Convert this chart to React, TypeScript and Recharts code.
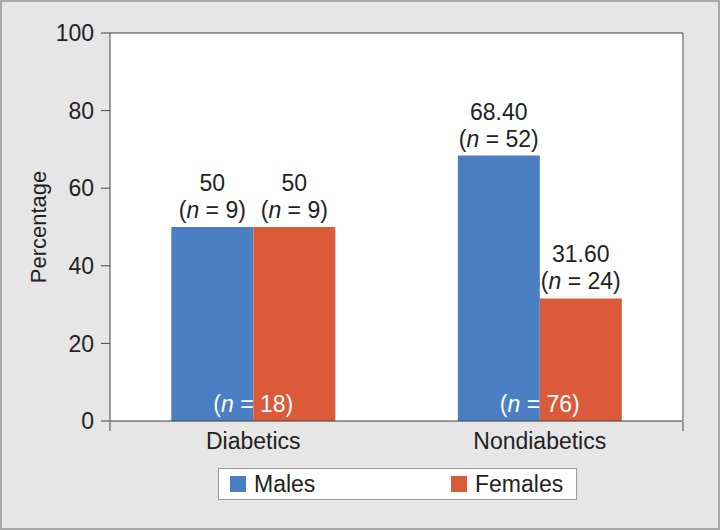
import React from 'react';
import { BarChart, Bar, XAxis, YAxis, CartesianGrid, ReferenceLine, LabelList } from 'recharts';

const categories = ['Diabetics', 'Nondiabetics'];
const malesPct = [50, 68.4];
const femalesPct = [50, 31.6];
const malesText = ['50', '68.40'];
const femalesText = ['50', '31.60'];
const malesN = [9, 52];
const femalesN = [9, 24];
const totalN = [18, 76];
const yTicks = [0, 20, 40, 60, 80, 100];
const bandEdges = [0, 1, 2];
const seriesNames = ['Males', 'Females'];
const seriesColors = ['#4a7fc3', '#da5a3a'];

const FONT = '"Liberation Sans", Arial, sans-serif';
const FS = 23;

const data = categories.map((name, i) => ({
  name,
  males: malesPct[i],
  females: femalesPct[i],
  maleLabel: malesText[i] + '|' + malesN[i],
  femaleLabel: femalesText[i] + '|' + femalesN[i],
  total: totalN[i],
}));

const TopLabel = (props: any) => {
  const { x, y, width, value } = props;
  const [pct, n] = String(value).split('|');
  const cx = Number(x) + Number(width) / 2;
  return (
    <text textAnchor="middle" fontSize={FS} fill="#222" fontFamily={FONT}>
      <tspan x={cx} y={Number(y) - 36}>{pct}</tspan>
      <tspan x={cx} y={Number(y) - 9}>
        (<tspan fontStyle="italic">n</tspan> = {n})
      </tspan>
    </text>
  );
};

const TotalLabel = (props: any) => {
  const { x, y, height, value } = props;
  return (
    <text x={Number(x)} y={Number(y) + Number(height) - 9} textAnchor="middle" fontSize={FS} fill="#fff" fontFamily={FONT}>
      (<tspan fontStyle="italic">n</tspan> = {value})
    </text>
  );
};

const YLabel = (props: any) => {
  const vb = props.viewBox || {};
  const x = vb.x - 12;
  const y = vb.y + vb.height / 2;
  return (
    <text x={x} y={y} transform={`rotate(-90 ${x} ${y})`} textAnchor="middle" dominantBaseline="central" fontSize={22} fill="#222" fontFamily={FONT}>
      Percentage
    </text>
  );
};

const EmptyTick = () => <g />;

export default function App() {
  return (
    <div
      style={{
        position: 'absolute',
        left: 0,
        top: 0,
        width: 720,
        height: 530,
        background: '#e6e6e6',
        boxShadow: 'inset 0 0 0 2px #a9a9a9',
        fontFamily: FONT,
      }}
    >
      <BarChart
        width={720}
        height={530}
        data={data}
        margin={{ top: 33, right: 36, bottom: 107, left: 50 }}
        barCategoryGap="21.4%"
        barGap={0}
      >
        <rect x={110} y={33} width={574} height={388} fill="#fff" />
        <CartesianGrid xAxisId="cat" yAxisId="left" vertical={false} stroke="#c4c4c4" fill="#fff" />
        <XAxis
          xAxisId="num"
          type="number"
          domain={[0, 2]}
          ticks={bandEdges}
          tick={<EmptyTick />}
          tickSize={9}
          axisLine={false}
          height={1}
          tickLine={{ stroke: '#444' }}
        />
        <XAxis
          xAxisId="cat"
          dataKey="name"
          height={1}
          tickLine={false}
          tickSize={0}
          tickMargin={12}
          axisLine={{ stroke: '#444' }}
          tick={{ fontSize: FS, fill: '#222', fontFamily: FONT }}
        />
        <YAxis
          yAxisId="left"
          width={60}
          domain={[0, 100]}
          ticks={yTicks}
          tickSize={9}
          tickMargin={7}
          axisLine={{ stroke: '#444' }}
          tickLine={{ stroke: '#444' }}
          tick={{ fontSize: FS, fill: '#222', fontFamily: FONT }}
          label={<YLabel />}
        />
        <YAxis yAxisId="r" orientation="right" width={1} domain={[0, 100]} tick={false} tickLine={false} axisLine={{ stroke: '#444' }} />
        <ReferenceLine xAxisId="cat" yAxisId="left" y={100} stroke="#444" />
        <Bar xAxisId="cat" yAxisId="left" dataKey="males" fill={seriesColors[0]} isAnimationActive={false}>
          <LabelList dataKey="maleLabel" content={<TopLabel />} />
        </Bar>
        <Bar xAxisId="cat" yAxisId="left" dataKey="females" fill={seriesColors[1]} isAnimationActive={false}>
          <LabelList dataKey="femaleLabel" content={<TopLabel />} />
          <LabelList dataKey="total" content={<TotalLabel />} />
        </Bar>
      </BarChart>
      <div
        style={{
          position: 'absolute',
          left: 218,
          top: 468,
          width: 359,
          height: 32,
          boxSizing: 'border-box',
          border: '1px solid #9a9a9a',
          background: '#fff',
        }}
      >
        {seriesNames.map((s, i) => (
          <div key={s} style={{ position: 'absolute', left: i === 0 ? 11 : 232, top: 0, height: 30, display: 'flex', alignItems: 'center' }}>
            <span style={{ display: 'inline-block', width: 16, height: 16, background: seriesColors[i], marginRight: 8 }} />
            <span style={{ fontSize: FS, color: '#222' }}>{s}</span>
          </div>
        ))}
      </div>
    </div>
  );
}
